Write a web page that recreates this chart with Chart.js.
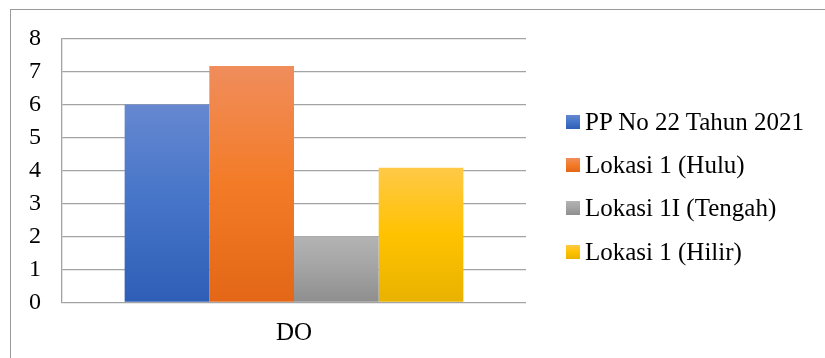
<!DOCTYPE html>
<html>
<head>
<meta charset="utf-8">
<script src="https://cdn.jsdelivr.net/npm/chart.js@4/dist/chart.umd.min.js"></script>
<style>
    html, body { margin: 0; padding: 0; background: #fff; }
    #wrap { position: relative; width: 825px; height: 358px; overflow: hidden; }
    #frame {
        position: absolute; left: 10px; top: 9px; width: 840px; height: 380px;
        border: 1px solid #9a9a9a; box-sizing: border-box;
    }
    canvas { position: absolute; left: 0; top: 0; }
    #legend {
        position: absolute; left: 566px; top: 100px; margin: 0; padding: 0; list-style: none;
        font-family: "Liberation Serif", "Times New Roman", serif; font-size: 25px; color: #000;
    }
    #legend li { height: 43.3px; display: flex; align-items: center; white-space: nowrap; }
    #legend .sw { width: 14px; height: 14px; margin-right: 5px; flex: none; }
</style>
</head>
<body>
<div id="wrap">
    <div id="frame"></div>
    <canvas id="doChart" width="825" height="358"></canvas>
    <ul id="legend"></ul>
</div>
<script>
'use strict';

// parameter on the x axis
const categories = ['DO'];

// series names and their DO readings
const seriesNames = ['PP No 22 Tahun 2021', 'Lokasi 1 (Hulu)', 'Lokasi 1I (Tengah)', 'Lokasi 1 (Hilir)'];
const ppValues = [6];
const huluValues = [7.17];
const tengahValues = [2];
const hilirValues = [4.08];

// y axis ticks
const yTicks = [0, 1, 2, 3, 4, 5, 6, 7, 8];

// top / mid / bottom shades for each series
const shades = [
    ['#6688d0', '#4574c8', '#2e5eb6'],
    ['#f08d5c', '#f37b27', '#e36716'],
    ['#b3b3b3', '#a3a3a3', '#8e8e8e'],
    ['#ffc947', '#ffc200', '#e8b200'],
];

const FONT = '"Liberation Serif", "Times New Roman", serif';

// vertical gradient spanning one bar, from its top down to the baseline
function barGradient(context, stops) {
    const chart = context.chart;
    const area = chart.chartArea;
    if (!area || !chart.scales.y) return stops[1];
    const v = context.raw;
    const top = chart.scales.y.getPixelForValue(v);
    const bottom = chart.scales.y.getPixelForValue(0);
    const g = chart.ctx.createLinearGradient(0, top, 0, bottom);
    g.addColorStop(0, stops[0]);
    g.addColorStop(0.5, stops[1]);
    g.addColorStop(1, stops[2]);
    return g;
}

const seriesValues = [ppValues, huluValues, tengahValues, hilirValues];

const datasets = seriesNames.map((name, i) => ({
    label: name,
    data: seriesValues[i],
    backgroundColor: (ctx) => barGradient(ctx, shades[i]),
    borderWidth: 0,
    categoryPercentage: 0.73,
    barPercentage: 1.0,
}));

new Chart(document.getElementById('doChart'), {
    type: 'bar',
    data: { labels: categories, datasets: datasets },
    options: {
        responsive: false,
        animation: false,
        layout: { padding: { top: 38.5, right: 299, left: 0, bottom: 0 } },
        plugins: {
            legend: { display: false },
            tooltip: { enabled: false },
        },
        scales: {
            x: {
                grid: { display: false, drawTicks: false },
                border: { display: false },
                ticks: { color: '#000', padding: 16, font: { family: FONT, size: 25 } },
                afterFit: (s) => { s.height = 55.5; },
            },
            y: {
                min: 0,
                max: 8,
                afterBuildTicks: (s) => { s.ticks = yTicks.map(v => ({ value: v })); },
                grid: { color: '#a3a3a3', lineWidth: 1.3, drawTicks: false },
                border: { display: true, color: '#a3a3a3', width: 1.3 },
                ticks: { color: '#000', padding: 21, font: { family: FONT, size: 24 } },
                afterFit: (s) => { s.width = 62; },
            },
        },
    },
});

// legend beside the plot
const legend = document.getElementById('legend');
seriesNames.forEach((name, i) => {
    const li = document.createElement('li');
    const sw = document.createElement('span');
    sw.className = 'sw';
    sw.style.background = `linear-gradient(${shades[i][0]}, ${shades[i][1]}, ${shades[i][2]})`;
    li.appendChild(sw);
    li.appendChild(document.createTextNode(name));
    legend.appendChild(li);
});
</script>
</body>
</html>
